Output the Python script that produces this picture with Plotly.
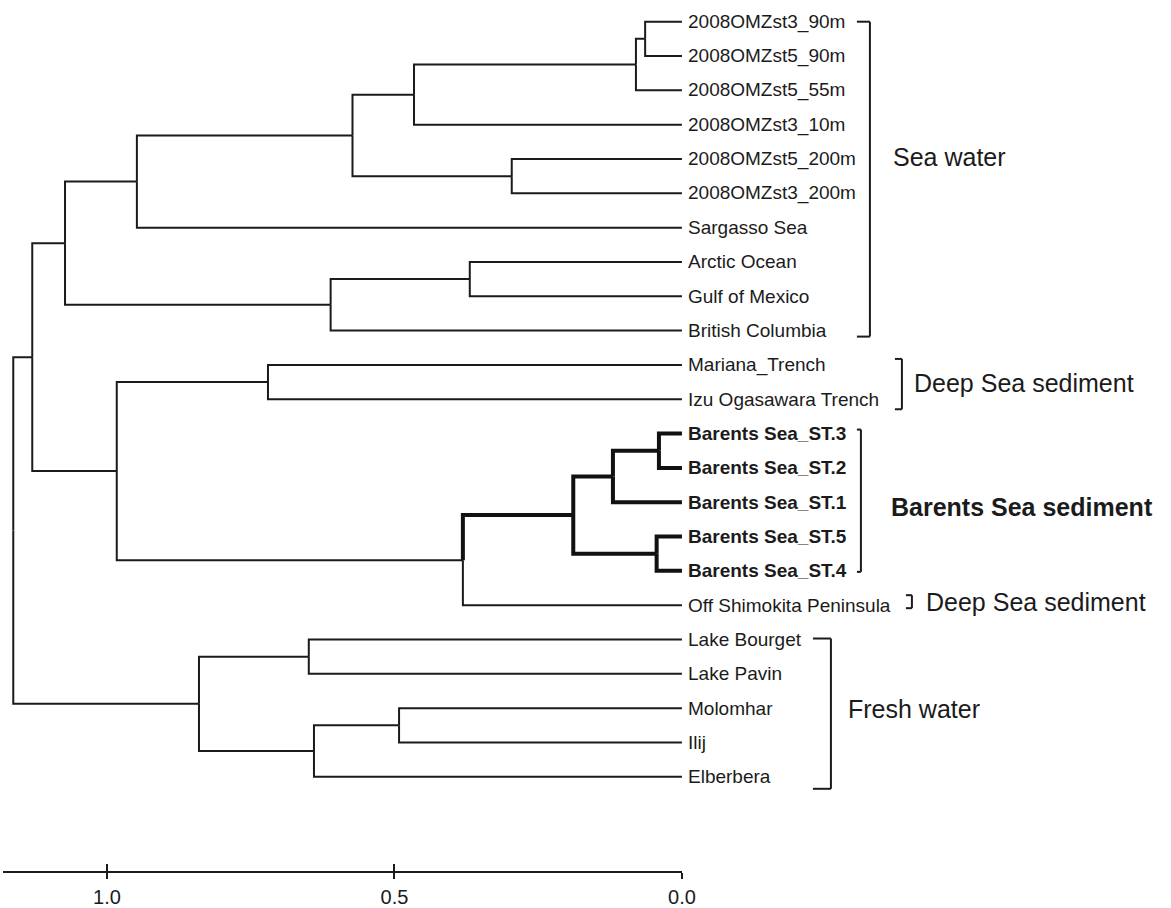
import plotly.graph_objects as go

# ---------------- data ----------------
leaf_names = [
    "2008OMZst3_90m", "2008OMZst5_90m", "2008OMZst5_55m", "2008OMZst3_10m",
    "2008OMZst5_200m", "2008OMZst3_200m", "Sargasso Sea", "Arctic Ocean",
    "Gulf of Mexico", "British Columbia", "Mariana_Trench", "Izu Ogasawara Trench",
    "Barents Sea_ST.3", "Barents Sea_ST.2", "Barents Sea_ST.1", "Barents Sea_ST.5",
    "Barents Sea_ST.4", "Off Shimokita Peninsula", "Lake Bourget", "Lake Pavin",
    "Molomhar", "Ilij", "Elberbera",
]

# internal nodes: name, height (distance), two children
node_names = ["N01", "N02", "N03", "N04", "N05", "N06", "N07", "N08", "N09", "N10", "N11",
              "N12", "N13", "N14", "N15", "N16", "N17", "N18", "N19", "N20", "N21", "N22"]
node_heights = [0.064, 0.080, 0.466, 0.296, 0.573, 0.948, 0.369, 0.611, 1.073, 0.720, 0.040,
                0.120, 0.044, 0.189, 0.381, 0.983, 1.130, 0.649, 0.492, 0.640, 0.840, 1.163]
node_child_a = ["2008OMZst3_90m", "N01", "N02", "2008OMZst5_200m", "N03", "N05",
                "Arctic Ocean", "N07", "N06", "Mariana_Trench", "Barents Sea_ST.3",
                "N11", "Barents Sea_ST.5", "N12", "N14", "N10", "N09", "Lake Bourget",
                "Molomhar", "N19", "N18", "N17"]
node_child_b = ["2008OMZst5_90m", "2008OMZst5_55m", "2008OMZst3_10m", "2008OMZst3_200m",
                "N04", "Sargasso Sea", "Gulf of Mexico", "British Columbia", "N08",
                "Izu Ogasawara Trench", "Barents Sea_ST.2", "Barents Sea_ST.1",
                "Barents Sea_ST.4", "N13", "Off Shimokita Peninsula", "N15", "N16",
                "Lake Pavin", "Ilij", "Elberbera", "N20", "N21"]

highlight = ["Barents Sea_ST.3", "Barents Sea_ST.2", "Barents Sea_ST.1", "Barents Sea_ST.5",
             "Barents Sea_ST.4", "N11", "N12", "N13", "N14"]

group_names = ["Sea water", "Deep Sea sediment", "Barents Sea sediment",
               "Deep Sea sediment", "Fresh water"]
group_first = ["2008OMZst3_90m", "Mariana_Trench", "Barents Sea_ST.3",
               "Off Shimokita Peninsula", "Lake Bourget"]
group_last = ["British Columbia", "Izu Ogasawara Trench", "Barents Sea_ST.4",
              "Off Shimokita Peninsula", "Elberbera"]

scale_ticks = [1.0, 0.5, 0.0]
scale_labels = ["1.0", "0.5", "0.0"]

# ---------------- layout constants ----------------
W, H = 1171, 908
KX, KY = 1.012, 1.002   # small correction for the capture's horizontal squeeze
TIP_PX = 682.0 * KX          # pixel x of distance 0
PX_PER_UNIT = 575.0 * KX     # pixels per distance unit
TOP_PX = 21.7 * KY           # pixel y of first leaf
ROW_PX = 34.33 * KY          # pixel spacing between leaves
FONT = "Liberation Sans, Arial, Helvetica, sans-serif"
INK = "#1b1b1b"

def dx(p):      # reference pixels right of the tips -> data x
    return -p * KX / PX_PER_UNIT

def dy(p):      # reference pixels -> rows
    return p * KY / ROW_PX

def row_of(p):  # reference pixel y -> row
    return (p * KY - TOP_PX) / ROW_PX

# bracket styling per group (reference-pixel offsets right of tips / from first & last leaf)
bracket_style = [
    dict(vx=188, hx=175, top=0, bot=6, lx=209, ly=156.7, bold=False),
    dict(vx=220, hx=213, top=-6, bot=10, lx=230, ly=383.3, bold=False),
    dict(vx=179, hx=175, top=-4, bot=1, lx=207, ly=506.7, bold=True),
    dict(vx=230, hx=224, top=-10, bot=3, lx=242, ly=601.7, bold=False),
    dict(vx=149, hx=131, top=-1, bot=12, lx=164, ly=709.3, bold=False),
]

# ---------------- tree geometry ----------------
pos_x, pos_y = {}, {}
for i, n in enumerate(leaf_names):
    pos_x[n] = 0.0
    pos_y[n] = float(i)
for n, h, a, b in zip(node_names, node_heights, node_child_a, node_child_b):
    pos_x[n] = h
    pos_y[n] = (pos_y[a] + pos_y[b]) / 2.0

thin_x, thin_y, thick_x, thick_y = [], [], [], []
for n, a, b in zip(node_names, node_child_a, node_child_b):
    for c in (a, b):
        xs = [pos_x[n], pos_x[n], pos_x[c], None]
        ys = [pos_y[n], pos_y[c], pos_y[c], None]
        if c in highlight:
            thick_x += xs; thick_y += ys
        else:
            thin_x += xs; thin_y += ys

fig = go.Figure()
fig.add_trace(go.Scatter(x=thin_x, y=thin_y, mode="lines",
                         line=dict(color=INK, width=2),
                         hoverinfo="skip", showlegend=False))
fig.add_trace(go.Scatter(x=thick_x, y=thick_y, mode="lines",
                         line=dict(color="#111111", width=4),
                         hoverinfo="skip", showlegend=False))

annotations = []
for n in leaf_names:
    bold = n in highlight
    annotations.append(dict(
        x=0, y=pos_y[n], xref="x", yref="y", xanchor="left", yanchor="middle",
        xshift=4 * KX, text=("<b>%s</b>" % n) if bold else n, showarrow=False,
        font=dict(family=FONT, size=19, color=INK)))

shapes = []
for g, f, l, st in zip(group_names, group_first, group_last, bracket_style):
    y0 = pos_y[f] + dy(st["top"])
    y1 = pos_y[l] + dy(st["bot"])
    vx, hx = dx(st["vx"]), dx(st["hx"])
    for seg in ((hx, y0, vx, y0), (vx, y0, vx, y1), (vx, y1, hx, y1)):
        shapes.append(dict(type="line", xref="x", yref="y",
                           x0=seg[0], y0=seg[1], x1=seg[2], y1=seg[3],
                           line=dict(color=INK, width=2)))
    annotations.append(dict(
        x=dx(st["lx"]), y=row_of(st["ly"]), xref="x", yref="y",
        xanchor="left", yanchor="middle",
        text=("<b>%s</b>" % g) if st["bold"] else g, showarrow=False,
        font=dict(family=FONT, size=25, color=INK)))

# invisible anchors for the scale-bar axes
fig.add_trace(go.Scatter(x=[0.5], y=[0.5], mode="markers", marker=dict(opacity=0),
                         xaxis="x2", yaxis="y2", hoverinfo="skip", showlegend=False))
fig.add_trace(go.Scatter(x=[0.5], y=[0.5], mode="markers", marker=dict(opacity=0),
                         xaxis="x3", yaxis="y2", hoverinfo="skip", showlegend=False))

x_left = TIP_PX / PX_PER_UNIT
x_right = (TIP_PX - W) / PX_PER_UNIT
y_bottom = (H - TOP_PX) / ROW_PX
y_top = -TOP_PX / ROW_PX
bar_left_px = 3.0 * KX
bar_y_px = 872.5
bar_dom = [bar_left_px / W, TIP_PX / W]
bar_range = [(TIP_PX - bar_left_px) / PX_PER_UNIT, 0.0]
bar_pos = (H - bar_y_px) / H

fig.update_layout(
    width=W, height=H,
    margin=dict(l=0, r=0, t=0, b=0),
    paper_bgcolor="white", plot_bgcolor="white",
    xaxis=dict(range=[x_left, x_right], domain=[0, 1], visible=False, fixedrange=True),
    yaxis=dict(range=[y_bottom, y_top], domain=[0, 1], visible=False, fixedrange=True),
    xaxis2=dict(domain=bar_dom, range=bar_range, anchor="y2", side="bottom",
                showline=True, linecolor=INK, linewidth=2.2, showgrid=False, zeroline=False,
                ticks="outside", ticklen=6, tickwidth=2, tickcolor=INK,
                tickvals=scale_ticks, ticktext=scale_labels, ticklabelstandoff=1,
                tickfont=dict(family=FONT, size=20, color=INK), fixedrange=True),
    xaxis3=dict(overlaying="x2", range=bar_range, anchor="y2", side="bottom",
                showline=False, showgrid=False, zeroline=False,
                ticks="inside", ticklen=7, tickwidth=2, tickcolor=INK,
                tickvals=scale_ticks, showticklabels=False, fixedrange=True),
    yaxis2=dict(domain=[bar_pos, bar_pos + 0.02], range=[0, 1], visible=False,
                fixedrange=True),
    shapes=shapes,
    annotations=annotations,
)

fig.write_html(
    "out.html",
    config={"displayModeBar": False, "staticPlot": True, "responsive": False},
    post_script=(
        "document.documentElement.style.margin='0px';"
        "document.documentElement.style.overflow='hidden';"
        "document.body.style.margin='0px';"
        "document.body.style.overflow='hidden';"
    ),
)
